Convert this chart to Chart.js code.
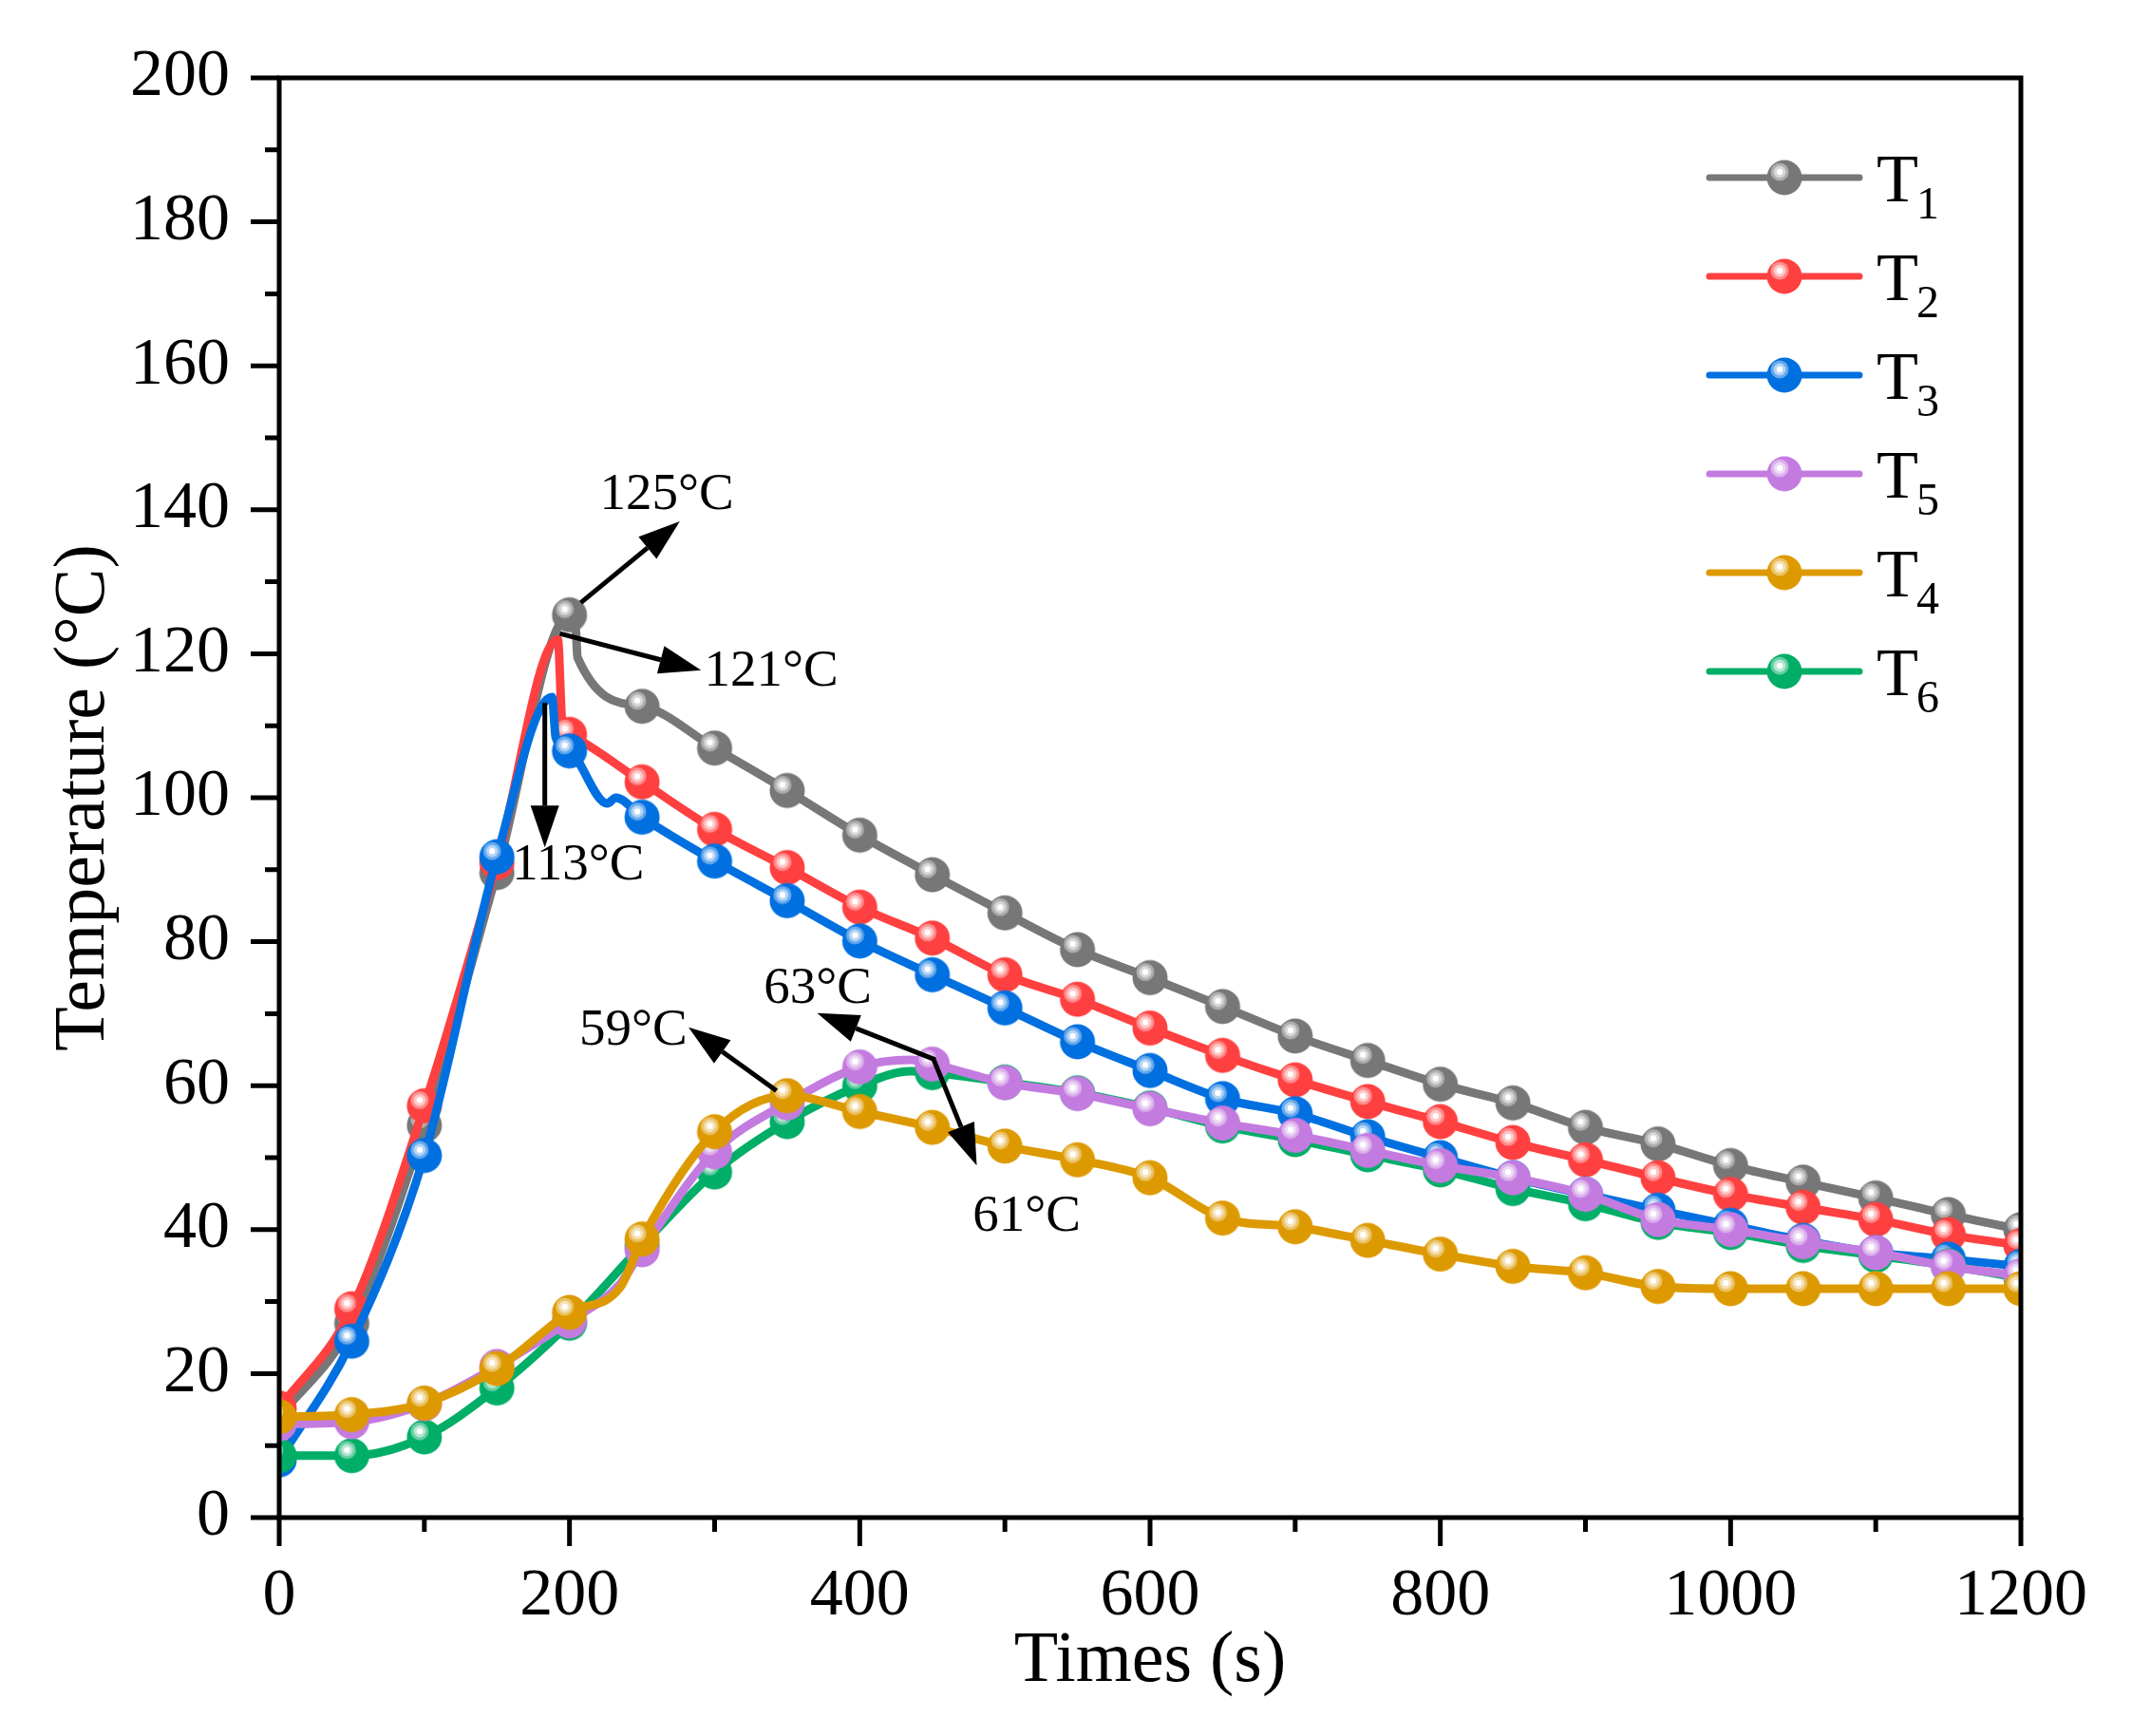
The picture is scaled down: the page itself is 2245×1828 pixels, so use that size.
<!DOCTYPE html>
<html>
<head>
<meta charset="utf-8">
<script src="https://cdn.jsdelivr.net/npm/chart.js@4.4.1/dist/chart.umd.min.js"></script>
<style>
  html, body { margin: 0; padding: 0; background: #fff; }
  canvas { display: block; }
</style>
</head>
<body>
<canvas id="chart" width="2245" height="1828"></canvas>
<script>
// time of each marker (s)
const times = [0, 50, 100, 150, 200, 250, 300, 350, 400, 450, 500, 550, 600,
  650, 700, 750, 800, 850, 900, 950, 1000, 1050, 1100, 1150, 1200];

// temperatures at the marker times (°C)
const t1Values = [14, 27, 54.5, 89.6, 125.4, 112.7, 106.9, 101, 94.8, 89.3, 84, 78.9, 75,
  71, 66.9, 63.5, 60.2, 57.6, 54.2, 51.9, 48.9, 46.6, 44.4, 42.1, 40];
const t2Values = [15.2, 29, 57.2, 91, 108.8, 102.2, 95.6, 90.3, 84.8, 80.5, 75.4, 72, 68,
  64.2, 60.8, 57.8, 55, 52.1, 49.7, 47.2, 44.9, 43.1, 41.4, 39.3, 37.8];
const t3Values = [8, 24.5, 50.3, 91.8, 106.5, 97.3, 91.2, 85.7, 80.1, 75.4, 70.8, 66.1, 62.1,
  58.2, 56.1, 52.9, 50, 47.2, 44.9, 42.7, 40.6, 38.5, 36.8, 35.9, 34.9];
const t5Values = [13, 13.3, 15.8, 21, 27.3, 37.2, 50.8, 57.6, 62.6, 63, 60.4, 58.9, 56.8,
  54.8, 53.1, 51, 48.9, 47.2, 44.9, 41.4, 40, 38.3, 36.8, 34.9, 33.6];
const t4Values = [14, 14.3, 15.9, 20.7, 28.5, 38.7, 53.6, 58.6, 56.4, 54.2, 51.6, 49.7, 47.2,
  41.6, 40.4, 38.5, 36.6, 34.9, 34, 32.1, 31.8, 31.8, 31.8, 31.8, 31.8];
const t6Values = [8.6, 8.6, 11.2, 18, 27, 37.8, 48, 55, 60, 61.8, 60.5, 59, 56.9,
  54.4, 52.5, 50.4, 48.3, 45.7, 43.6, 41, 39.6, 37.8, 36.4, 35, 33.3];

// extra points read between the markers (peaks and drops) [time, temperature]
const t1Extra = [[204.5, 123], [205.5, 119.5]];
const t2Extra = [[192, 122], [195, 110.4]];
const t3Extra = [[188, 114], [190.5, 108.4], [226, 99.2], [232, 100]];
const t5Extra = [[235, 32.5], [435, 63.6]];
const t4Extra = [[235, 32]];
const t6Extra = [[435, 62]];

// annotation labels and arrows, in data coordinates
const noteTexts = ['125°C', '121°C', '113°C', '59°C', '63°C', '61°C'];
const noteTextPos = [[267, 142], [339, 117.5], [206, 90.6], [244, 67.6], [371, 73.4], [515, 41.7]];
const noteArrows = [
  [[207.8, 127.1], [276, 138.4]],
  [[193.3, 122.8], [290.7, 117.7]],
  [[183, 113.2], [183, 93.1]],
  [[342.6, 59.3], [282, 68.1]],
  [[452, 63.6], [370.6, 70.1]],
  [[450.6, 63.8], [480.6, 48.9]]
];

const FONT = '"Liberation Serif", "Times New Roman", serif';

function mixWhite(hex, k) {
  const n = parseInt(hex.slice(1), 16);
  const r = (n >> 16) & 255, g = (n >> 8) & 255, b = n & 255;
  const f = v => Math.round(v + (255 - v) * k);
  return 'rgb(' + f(r) + ',' + f(g) + ',' + f(b) + ')';
}

// glossy ball marker
function makeMarker(color) {
  const r = 18.5;
  const c = document.createElement('canvas');
  c.width = c.height = 40;
  const g = c.getContext('2d');
  const m = 20;
  const dot = (x, y, rad, fill) => {
    g.fillStyle = fill;
    g.beginPath();
    g.arc(x, y, rad, 0, Math.PI * 2);
    g.fill();
  };
  dot(m, m, r, color);
  dot(m - 5, m - 6, 9.5, mixWhite(color, 0.4));
  dot(m - 5, m - 6, 6.5, mixWhite(color, 0.7));
  dot(m - 5, m - 6, 3.2, '#ffffff');
  return c;
}

function buildPoints(values, extra) {
  const pts = times.map((t, i) => ({ x: t, y: values[i] }));
  extra.forEach(p => pts.push({ x: p[0], y: p[1] }));
  return pts.sort((a, b) => a.x - b.x);
}

const series = [
  { label: '1', color: '#777777', values: t1Values, extra: t1Extra, order: 6 },
  { label: '2', color: '#ff4040', values: t2Values, extra: t2Extra, order: 5 },
  { label: '3', color: '#0070e0', values: t3Values, extra: t3Extra, order: 4 },
  { label: '5', color: '#c47be0', values: t5Values, extra: t5Extra, order: 2 },
  { label: '4', color: '#dd9a00', values: t4Values, extra: t4Extra, order: 1 },
  { label: '6', color: '#00ae67', values: t6Values, extra: t6Extra, order: 3 }
];
series.forEach(s => { s.marker = makeMarker(s.color); });

const datasets = series.map(s => ({
  label: 'T' + s.label,
  data: buildPoints(s.values, s.extra),
  borderColor: s.color,
  backgroundColor: s.color,
  borderWidth: 9,
  borderCapStyle: 'round',
  borderJoinStyle: 'round',
  cubicInterpolationMode: 'monotone',
  pointStyle: s.marker,
  pointRadius: ctx => (ctx.raw && ctx.raw.x % 50 === 0 ? 18 : 0),
  fill: false,
  clip: 0,
  order: s.order
}));

// frame and outward ticks (major + minor)
const framePlugin = {
  id: 'frame',
  afterDatasetsDraw(chart) {
    const { ctx, chartArea: a, scales: { x, y } } = chart;
    ctx.save();
    ctx.strokeStyle = '#000';
    ctx.lineWidth = 5;
    ctx.lineCap = 'butt';
    ctx.strokeRect(a.left, a.top, a.right - a.left, a.bottom - a.top);
    ctx.beginPath();
    for (let v = 0; v <= 1200; v += 100) {
      const px = x.getPixelForValue(v);
      const len = v % 200 === 0 ? 30 : 15;
      ctx.moveTo(px, a.bottom);
      ctx.lineTo(px, a.bottom + len);
    }
    for (let v = 0; v <= 200; v += 10) {
      const py = y.getPixelForValue(v);
      const len = v % 20 === 0 ? 30 : 15;
      ctx.moveTo(a.left, py);
      ctx.lineTo(a.left - len, py);
    }
    ctx.stroke();
    ctx.restore();
  }
};

// arrows + temperature labels
const notesPlugin = {
  id: 'notes',
  afterDatasetsDraw(chart) {
    const { ctx, scales: { x, y } } = chart;
    ctx.save();
    ctx.fillStyle = '#000';
    ctx.strokeStyle = '#000';
    ctx.lineWidth = 5;
    noteArrows.forEach(([from, to]) => {
      const x0 = x.getPixelForValue(from[0]), y0 = y.getPixelForValue(from[1]);
      const x1 = x.getPixelForValue(to[0]), y1 = y.getPixelForValue(to[1]);
      const ang = Math.atan2(y1 - y0, x1 - x0);
      const head = 44, half = 15;
      const bx = x1 - head * Math.cos(ang), by = y1 - head * Math.sin(ang);
      ctx.beginPath();
      ctx.moveTo(x0, y0);
      ctx.lineTo(bx, by);
      ctx.stroke();
      ctx.beginPath();
      ctx.moveTo(x1, y1);
      ctx.lineTo(bx + half * Math.sin(ang), by - half * Math.cos(ang));
      ctx.lineTo(bx - half * Math.sin(ang), by + half * Math.cos(ang));
      ctx.closePath();
      ctx.fill();
    });
    ctx.font = '55px ' + FONT;
    ctx.textAlign = 'center';
    ctx.textBaseline = 'middle';
    noteTexts.forEach((txt, i) => {
      ctx.fillText(txt, x.getPixelForValue(noteTextPos[i][0]), y.getPixelForValue(noteTextPos[i][1]));
    });
    ctx.restore();
  }
};

// legend with subscripts
const legendPlugin = {
  id: 'subLegend',
  afterDraw(chart) {
    const ctx = chart.ctx;
    ctx.save();
    series.forEach((s, i) => {
      const cy = 187 + i * 104;
      ctx.strokeStyle = s.color;
      ctx.lineWidth = 7;
      ctx.lineCap = 'round';
      ctx.beginPath();
      ctx.moveTo(1800, cy);
      ctx.lineTo(1958, cy);
      ctx.stroke();
      ctx.drawImage(s.marker, 1879 - s.marker.width / 2, cy - s.marker.height / 2);
      ctx.fillStyle = '#000';
      ctx.textAlign = 'left';
      ctx.textBaseline = 'alphabetic';
      ctx.font = '72px ' + FONT;
      ctx.fillText('T', 1976, cy + 25);
      ctx.font = '48px ' + FONT;
      ctx.fillText(s.label, 2018, cy + 43);
    });
    ctx.restore();
  }
};

new Chart(document.getElementById('chart'), {
  type: 'line',
  data: { datasets: datasets },
  options: {
    responsive: false,
    devicePixelRatio: 1,
    animation: false,
    events: [],
    layout: { padding: { top: 82, right: 117, left: 0, bottom: 0 } },
    plugins: { legend: { display: false }, tooltip: { enabled: false } },
    scales: {
      x: {
        type: 'linear',
        min: 0,
        max: 1200,
        grid: { display: false, drawTicks: false },
        border: { display: false },
        ticks: {
          stepSize: 200, color: '#000', font: { family: FONT, size: 70 }, padding: 42, maxRotation: 0,
          callback: v => String(v)
        },
        title: { display: true, text: 'Times (s)', color: '#000', font: { family: FONT, size: 76 }, padding: { top: 0, bottom: 32 } },
        afterFit(scale) {
          scale.height = 230;
          scale.paddingLeft = 0;
          scale.paddingRight = 0;
        }
      },
      y: {
        min: 0,
        max: 200,
        grid: { display: false, drawTicks: false },
        border: { display: false },
        ticks: { stepSize: 20, color: '#000', font: { family: FONT, size: 70 }, padding: 52, callback: v => String(v) },
        title: { display: true, text: 'Temperature (°C)', color: '#000', font: { family: FONT, size: 76 }, padding: { top: 43, bottom: 0 } },
        afterFit(scale) {
          scale.width = 294;
          scale.paddingTop = 0;
          scale.paddingBottom = 0;
        }
      }
    }
  },
  plugins: [framePlugin, notesPlugin, legendPlugin]
});
</script>
</body>
</html>
